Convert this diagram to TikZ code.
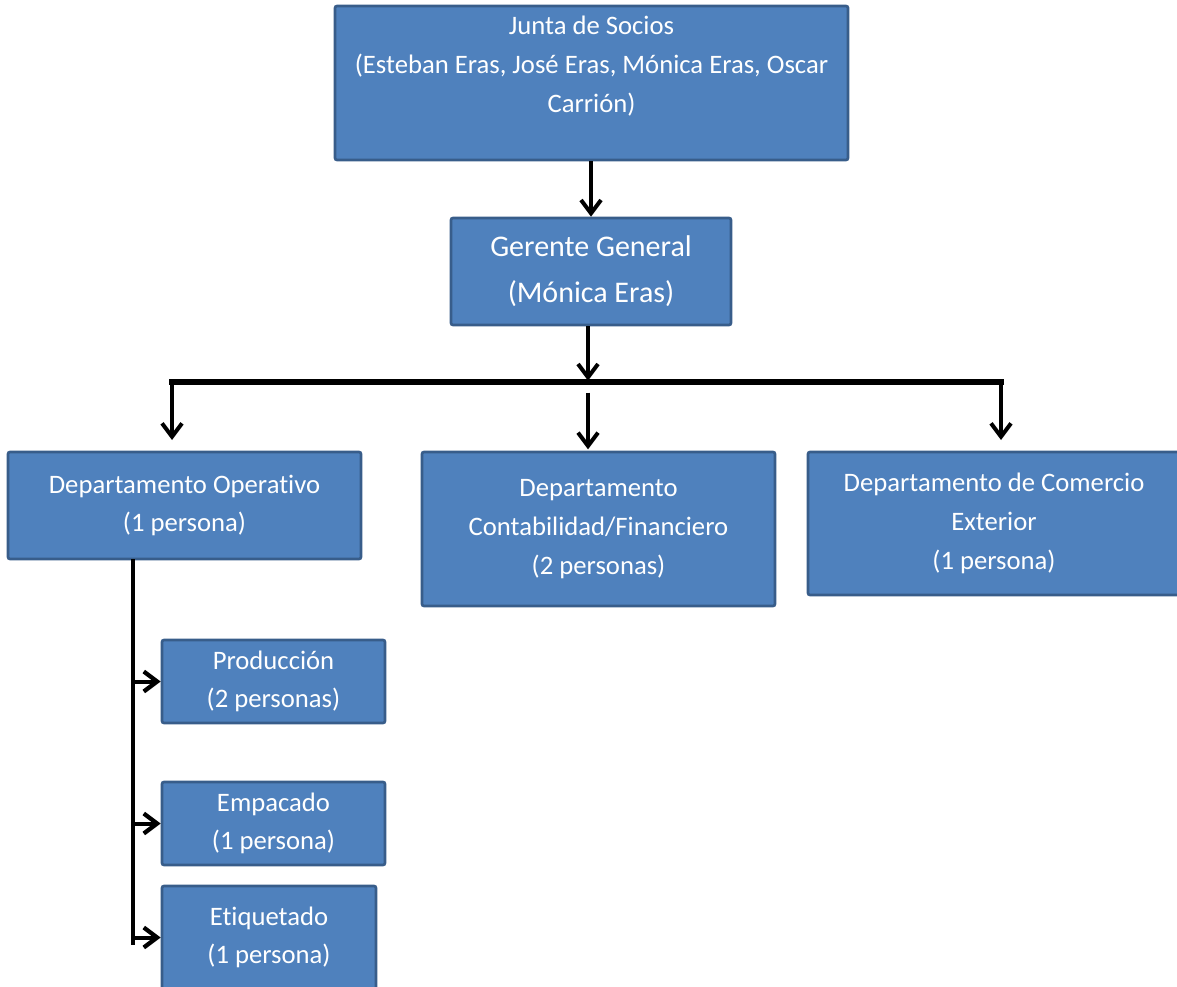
\documentclass[tikz,border=0pt]{standalone}
\usepackage{fontspec}
\setmainfont[Ligatures={NoCommon}]{Carlito}
\usepackage{xcolor}
\usetikzlibrary{arrows.meta}

\definecolor{boxfill}{RGB}{79,129,189}
\definecolor{boxline}{RGB}{56,93,138}

\tikzset{
  unit/.style={draw=boxline, line width=2pt, fill=boxfill, rounded corners=1.5pt,
    inner sep=0pt, text=white, align=center, font=\fontsize{20}{29}\selectfont},
  boss/.style={unit, font=\fontsize{22.5}{34.5}\selectfont},
  link/.style={line width=2.6pt, -{Straight Barb[length=10pt, width=15pt, line width=3pt]}},
  sublink/.style={line width=3pt, -{Straight Barb[length=10pt, width=15pt, line width=3.2pt]}},
  bus/.style={line width=4.8pt}
}

\begin{document}
\begin{tikzpicture}[x=0.75pt,y=0.75pt,yscale=-1,xscale=1]
\useasboundingbox (0,0) rectangle (1177,987); %same size as the reference

%Shape: Rectangle [id:junta]
\node [unit, minimum width=384.75pt, minimum height=115.5pt] (junta) at (591.5,83) {};
% Text Node
\node [text=white, align=center, inner sep=0pt, font=\fontsize{20}{29}\selectfont] (juntatxt) at (591.5,66) {Junta de Socios\\(Esteban Eras, José Eras, Mónica Eras, Oscar\\Carrión)};

%Shape: Rectangle [id:gerente]
\node [boss, minimum width=210pt, minimum height=80.25pt] (gerente) at (591,271.5) {Gerente General\\(Mónica Eras)};

%Shape: Rectangle [id:operativo]
\node [unit, minimum width=264.75pt, minimum height=80.25pt] (operativo) at (184.5,505.5) {Departamento Operativo\\(1 persona)};
%Shape: Rectangle [id:contab]
\node [unit, minimum width=264.75pt, minimum height=115.5pt] (contab) at (598.5,529) {Departamento\\Contabilidad/Financiero\\(2 personas)};
%Shape: Rectangle [id:comercio]
\node [unit, minimum width=279pt, minimum height=107.25pt] (comercio) at (994,523.5) {Departamento de Comercio\\Exterior\\(1 persona)};

%Shape: Rectangle [id:produccion]
\node [unit, minimum width=167.25pt, minimum height=62.25pt] (produccion) at (273.5,681.5) {Producción\\(2 personas)};
%Shape: Rectangle [id:empacado]
\node [unit, minimum width=167.25pt, minimum height=62.25pt] (empacado) at (273.5,823.5) {Empacado\\(1 persona)};
%Shape: Rectangle [id:etiquetado]
\node [unit, minimum width=160.5pt, minimum height=77.25pt] (etiquetado) at (269,937.5) {Etiquetado\\(1 persona)};

%Coordinates of the bus and the trunk
\coordinate (busL) at (172,382);
\coordinate (busM) at (588,382);
\coordinate (busR) at (1001,382);
\coordinate (trunk) at (133,559);
\coordinate (trunkend) at (133,945);

%Straight Lines [id:junta-gerente]
\draw [link] (gerente.north |- junta.south) -- (gerente.north);
%Straight Lines [id:gerente-bus]
\draw [link] (busM |- gerente.south) -- ([yshift=-1]busM);
%Straight Lines [id:bus]
\draw [bus] ([xshift=-2]busL) -- ([xshift=2]busR);
%Straight Lines [id:bus-departments]
\draw [link, shorten >=8pt] (busL) -- (busL |- operativo.north);
\draw [link, shorten <=8pt, shorten >=1pt] (busM) -- (busM |- contab.north);
\draw [link, shorten >=8pt] (busR) -- (busR |- comercio.north);

%Straight Lines [id:trunk]
\draw [line width=3pt] (trunk) -- (trunkend);
%Straight Lines [id:trunk-units]
\draw [sublink] (trunk |- produccion.west) -- (produccion.west);
\draw [sublink] (trunk |- empacado.west) -- (empacado.west);
\draw [sublink] (trunk |- etiquetado.west) -- (etiquetado.west);

\end{tikzpicture}
\end{document}
